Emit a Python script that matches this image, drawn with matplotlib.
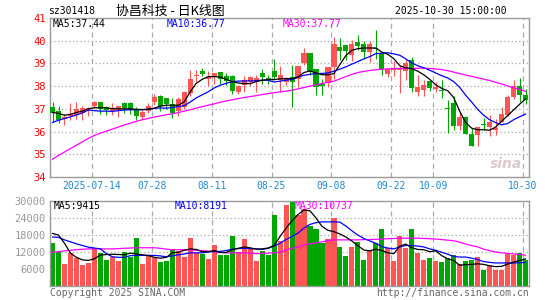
import numpy as np
import matplotlib.pyplot as plt

# daily K-line, 2025-07-03 .. 2025-10-30 (80 trading days)
date_idx = [7, 17, 27, 37, 47, 57, 64, 79]
date_labels = ["2025-07-14", "07-28", "08-11", "08-25", "09-08", "09-22", "10-09", "10-30"]

open_ = [37.07, 36.89, 36.54, 36.70, 36.75, 36.82, 36.98, 37.11, 37.29, 37.07,
         36.89, 36.95, 37.24, 37.24, 37.00, 36.63, 36.92, 37.30, 37.58, 37.46,
         37.23, 36.91, 37.06, 37.72, 38.43, 38.67, 38.33, 38.43, 38.61, 38.46,
         38.45, 37.73, 38.05, 38.20, 38.20, 38.58, 38.37, 38.65, 38.29, 38.18,
         38.40, 38.33, 39.02, 39.47, 38.77, 38.11, 38.16, 38.84, 39.71, 39.80,
         39.39, 39.94, 39.84, 39.50, 39.70, 39.43, 38.55, 38.70, 38.70, 38.65,
         39.15, 37.75, 37.85, 38.22, 37.88, 37.85, 37.04, 37.24, 36.25, 36.64,
         35.90, 35.83, 36.32, 36.19, 36.08, 36.44, 36.74, 37.52, 38.00, 37.63]
close = [36.83, 36.53, 36.62, 36.79, 36.99, 37.02, 37.04, 37.29, 36.99, 36.97,
         37.04, 37.11, 37.05, 36.98, 36.68, 36.86, 37.11, 37.51, 37.11, 37.22,
         36.83, 37.45, 37.75, 38.33, 38.49, 38.52, 38.40, 38.58, 38.32, 38.21,
         37.79, 37.99, 38.25, 38.40, 38.38, 38.39, 38.29, 38.39, 38.48, 38.37,
         38.17, 38.87, 39.47, 38.62, 37.96, 37.99, 38.84, 39.84, 39.56, 39.53,
         39.84, 39.77, 39.50, 39.87, 39.64, 38.77, 38.77, 38.78, 38.80, 39.04,
         37.93, 37.95, 38.07, 37.92, 37.95, 37.79, 37.00, 36.25, 36.63, 35.90,
         35.37, 36.19, 36.30, 36.40, 36.15, 36.78, 37.52, 38.00, 37.63, 37.40]
high = [37.30, 37.13, 36.79, 37.26, 37.29, 37.14, 37.10, 37.36, 37.30, 37.13,
        37.26, 37.13, 37.29, 37.29, 37.08, 36.93, 37.24, 37.64, 37.60, 37.50,
        37.48, 37.53, 37.75, 38.70, 38.73, 38.80, 38.67, 38.58, 38.61, 38.58,
        38.48, 38.04, 38.43, 38.45, 38.48, 38.77, 38.50, 39.18, 38.87, 38.40,
        38.95, 38.87, 39.68, 39.47, 38.77, 38.33, 38.84, 40.16, 40.12, 39.80,
        40.01, 40.26, 39.97, 39.97, 40.45, 39.45, 38.77, 39.10, 38.94, 39.21,
        39.30, 38.50, 38.28, 38.22, 38.20, 38.27, 37.40, 37.55, 36.85, 36.70,
        36.15, 36.20, 36.58, 36.72, 36.55, 37.10, 37.62, 38.29, 38.35, 37.88]
low = [36.42, 36.36, 36.28, 36.50, 36.57, 36.52, 36.70, 37.04, 36.77, 36.72,
       36.74, 36.63, 36.83, 36.79, 36.51, 36.57, 36.80, 37.15, 36.91, 37.00,
       36.60, 36.68, 37.00, 37.57, 38.18, 38.43, 37.99, 38.11, 38.10, 38.04,
       37.67, 37.67, 37.75, 38.00, 37.75, 38.11, 38.11, 38.26, 37.75, 38.04,
       37.10, 37.96, 38.92, 38.50, 37.60, 37.60, 37.96, 38.33, 39.14, 39.15,
       39.09, 39.58, 39.20, 39.06, 39.20, 38.50, 38.40, 38.45, 37.70, 38.26,
       37.73, 37.58, 37.55, 37.80, 37.75, 37.50, 35.93, 36.07, 36.07, 35.88,
       35.35, 35.35, 36.06, 35.82, 35.86, 36.42, 36.70, 37.45, 37.28, 37.22]

ma5 = [36.84, 36.80, 36.72, 36.76, 36.84, 36.90, 37.00, 37.05, 37.05, 37.04,
       37.01, 37.00, 37.00, 37.00, 36.98, 36.97, 36.98, 37.03, 37.12, 37.16,
       37.16, 37.16, 37.31, 37.75, 38.12, 38.30, 38.42, 38.42, 38.40, 38.30,
       38.20, 38.14, 38.11, 38.11, 38.20, 38.26, 38.29, 38.29, 38.32, 38.33,
       38.34, 38.40, 38.60, 38.67, 38.58, 38.50, 38.50, 38.55, 38.95, 39.35,
       39.58, 39.65, 39.68, 39.68, 39.68, 39.50, 39.40, 39.21, 38.90, 38.80,
       38.77, 38.66, 38.50, 38.30, 38.06, 37.90, 37.80, 37.50, 36.90, 36.40,
       36.15, 36.08, 36.08, 36.06, 36.20, 36.45, 36.70, 36.95, 37.20, 37.44]
ma10 = [36.40, 36.50, 36.57, 36.65, 36.73, 36.82, 36.95, 36.92, 36.90, 36.90,
        36.89, 36.92, 36.95, 36.96, 36.96, 36.96, 36.98, 37.02, 37.04, 37.03,
        37.06, 37.10, 37.14, 37.30, 37.48, 37.62, 37.75, 37.92, 38.04, 38.12,
        38.20, 38.22, 38.23, 38.23, 38.24, 38.26, 38.26, 38.18, 38.22, 38.26,
        38.30, 38.40, 38.48, 38.52, 38.55, 38.56, 38.58, 38.66, 38.75, 38.85,
        38.97, 39.08, 39.20, 39.30, 39.43, 39.45, 39.47, 39.42, 39.36, 39.20,
        39.02, 38.90, 38.81, 38.70, 38.58, 38.46, 38.36, 38.20, 37.95, 37.60,
        37.30, 36.98, 36.72, 36.52, 36.40, 36.30, 36.35, 36.52, 36.65, 36.77]
ma30 = [34.78, 34.95, 35.10, 35.25, 35.40, 35.55, 35.70, 35.83, 35.93, 36.02,
        36.11, 36.20, 36.29, 36.37, 36.45, 36.52, 36.58, 36.64, 36.69, 36.74,
        36.78, 36.84, 36.90, 36.96, 37.03, 37.10, 37.16, 37.22, 37.29, 37.35,
        37.40, 37.45, 37.50, 37.54, 37.58, 37.63, 37.67, 37.71, 37.75, 37.78,
        37.82, 37.88, 37.94, 38.00, 38.06, 38.12, 38.17, 38.22, 38.32, 38.42,
        38.52, 38.60, 38.65, 38.69, 38.72, 38.74, 38.76, 38.77, 38.78, 38.78,
        38.78, 38.79, 38.79, 38.78, 38.76, 38.73, 38.68, 38.62, 38.55, 38.49,
        38.43, 38.37, 38.31, 38.25, 38.17, 38.10, 38.01, 37.93, 37.85, 37.77]

volume = [15000, 11840, 7500, 11490, 9600, 7150, 7970, 13000, 11490, 8900,
          9960, 8560, 11840, 10200, 17000, 7500, 10900, 9840, 8200, 8800,
          13000, 12300, 10200, 17000, 11490, 11100, 9380, 14530, 10700, 10800,
          17700, 11840, 16640, 13100, 8560, 12300, 10900, 25080, 15700, 28600,
          31000, 25080, 27070, 21200, 19900, 15100, 16400, 24000, 13800, 10300,
          13500, 15350, 8900, 12300, 15100, 20160, 13240, 8560, 17460, 13240,
          20160, 11370, 8900, 9730, 8560, 8200, 9730, 10700, 7500, 8560,
          8900, 10080, 5400, 6800, 5400, 5400, 11100, 10800, 11700, 9140]
vma5 = [18500, 17900, 15000, 11500, 10000, 9100, 8900, 9500, 10800, 11000,
        11100, 11000, 10900, 11500, 11200, 10900, 10600, 10000, 9700, 10000,
        11600, 11800, 12500, 13000, 12800, 12000, 12000, 12400, 11700, 11700,
        12700, 13200, 13700, 13400, 12900, 13000, 13300, 14200, 17400, 20300,
        23000, 25200, 26800, 26500, 24000, 21000, 19600, 19100, 18300, 17200,
        15800, 14100, 12600, 12300, 12900, 12400, 11600, 11300, 14000, 14700,
        13400, 12800, 12700, 12000, 12300, 10600, 9500, 8900, 7200, 7400,
        7500, 7700, 7500, 7000, 6700, 6800, 7600, 8300, 8900, 9415]
vma10 = [17200, 17100, 16200, 15500, 14800, 14200, 13600, 13300, 13000, 11300,
         10200, 10000, 10000, 10600, 10700, 10700, 10700, 10700, 10500, 10200,
         10500, 10900, 11200, 11600, 11600, 11600, 11900, 12100, 12100, 12400,
         12900, 13100, 13200, 13100, 13000, 12800, 13200, 14000, 15000, 16300,
         17400, 18600, 20400, 21700, 22300, 22600, 22600, 22600, 22500, 21100,
         19400, 17900, 16700, 15800, 15000, 13800, 13300, 13000, 13700, 14200,
         14200, 14000, 13700, 13000, 12500, 11800, 11100, 10300, 10100, 10100,
         9700, 9200, 8500, 8200, 8000, 8000, 8000, 8000, 8100, 8191]
vma30 = [11800, 12000, 12300, 12500, 12700, 12900, 13000, 13000, 13000, 13000,
         13000, 13100, 13200, 13300, 13400, 13400, 13400, 13400, 13200, 12900,
         12700, 12700, 12700, 12600, 12500, 12400, 12200, 12000, 11800, 11600,
         11600, 11600, 11600, 11500, 11300, 11400, 11500, 11600, 11900, 12600,
         13200, 13700, 14400, 14800, 15100, 15500, 15900, 16200, 16200, 16200,
         16200, 16200, 16300, 16300, 16400, 16500, 16600, 16700, 16800, 16800,
         16800, 16800, 16700, 16600, 16500, 16300, 16100, 15900, 15400, 14700,
         14200, 13700, 12900, 12400, 11900, 11600, 11400, 11200, 11050, 10737]

RED = "#ff5555"
GREEN = "#00a600"
GRID = "#aaaaaa"
MONO = "DejaVu Sans Mono"
FS = 7

o = np.array(open_)
c = np.array(close)
x = np.arange(len(o))
cols = np.where(c >= o, RED, GREEN)

W, H = 545, 300
fig = plt.figure(figsize=(W / 100, H / 100), dpi=100)


def frac(px, py):
    return px / W, 1 - py / H


def style(ax):
    for s in ax.spines.values():
        s.set_color("#999999")
        s.set_linewidth(1.0)
    ax.tick_params(length=0)
    ax.set_xlim(0, 80)
    for d in date_idx:
        ax.axvline(d, color=GRID, lw=0.9, ls=(0, (4, 3)), zorder=0)


# price panel
ax1 = fig.add_axes([50 / W, 1 - 177 / H, 479 / W, 159 / H])
style(ax1)
ax1.set_ylim(34, 41)
ax1.set_yticks(range(34, 42))
ax1.set_yticklabels([str(v) for v in range(34, 42)], color="red",
                    fontfamily=MONO, fontsize=FS + 0.5)
ax1.tick_params(axis="y", pad=3)
for v in range(35, 41):
    ax1.axhline(v, color=GRID, lw=0.9, ls=(0, (1, 2)), zorder=0)
ax1.set_xticks(date_idx)
ax1.set_xticklabels(date_labels, color="#2189cf", fontfamily=MONO, fontsize=FS)
ax1.tick_params(axis="x", pad=3)

body_lo = np.minimum(o, c)
body_h = np.maximum(np.abs(c - o), 0.04)
ax1.vlines(x + 0.42, low, high, colors=cols, lw=0.8, zorder=2)
ax1.bar(x, body_h, bottom=body_lo, width=0.85, align="edge", color=cols,
        lw=0, zorder=3)
ax1.plot(x + 0.42, ma30, color="#ff00ff", lw=0.9, zorder=4)
ax1.plot(x + 0.42, ma10, color="#0000ff", lw=0.9, zorder=4)
ax1.plot(x + 0.42, ma5, color="black", lw=0.9, zorder=5)

ax1.text(0.985, 0.04, "sina", transform=ax1.transAxes, ha="right", va="bottom",
         fontsize=10, fontweight="bold", fontstyle="italic", color="#dccaca",
         zorder=1)

# volume panel
ax2 = fig.add_axes([50 / W, 1 - 285.5 / H, 479 / W, 84.5 / H])
style(ax2)
ax2.set_ylim(0, 30000)
vt = [6000, 12000, 18000, 24000, 30000]
ax2.set_yticks(vt)
ax2.set_yticklabels([str(v) for v in vt], color="#999999", fontfamily=MONO,
                    fontsize=FS + 0.5)
ax2.tick_params(axis="y", pad=3)
ax2.set_xticks([])
for v in vt[:-1]:
    ax2.axhline(v, color=GRID, lw=0.9, ls=(0, (1, 2)), zorder=0)
ax2.bar(x, volume, width=0.85, align="edge", color=cols, lw=0, zorder=2)
ax2.plot(x + 0.42, vma30, color="#ff00ff", lw=0.9, zorder=4)
ax2.plot(x + 0.42, vma10, color="#0000ff", lw=0.9, zorder=4)
ax2.plot(x + 0.42, vma5, color="black", lw=0.9, zorder=5)

# header and legends
fig.text(*frac(48, 11), "sz301418", fontfamily=MONO, fontsize=FS,
         va="center", ha="left")
fig.text(*frac(116, 11), "协昌科技 - 日K线图", family=["Noto Sans CJK SC", "DejaVu Sans"],
         fontsize=9.3, va="center", ha="left")
fig.text(*frac(507, 11), "2025-10-30 15:00:00", fontfamily=MONO, fontsize=FS,
         va="center", ha="right")

fig.text(*frac(53, 24), "MA5:37.44", color="black", fontfamily=MONO, fontsize=FS, va="center")
fig.text(*frac(167, 24), "MA10:36.77", color="#0000ff", fontfamily=MONO, fontsize=FS, va="center")
fig.text(*frac(283, 24), "MA30:37.77", color="#ff00ff", fontfamily=MONO, fontsize=FS, va="center")

fig.text(*frac(54, 206), "MA5:9415", color="black", fontfamily=MONO, fontsize=FS, va="center")
fig.text(*frac(175, 206), "MA10:8191", color="#0000ff", fontfamily=MONO, fontsize=FS, va="center")
fig.text(*frac(295, 206), "MA30:10737", color="#ff00ff", fontfamily=MONO, fontsize=FS, va="center")

fig.text(*frac(50, 293), "Copyright 2025 SINA.COM", color="#666666", fontfamily=MONO,
         fontsize=FS, va="center")
fig.text(*frac(529, 293), "http://finance.sina.com.cn", color="#666666", fontfamily=MONO,
         fontsize=FS, va="center", ha="right")

fig.savefig("out.png", dpi=100)
